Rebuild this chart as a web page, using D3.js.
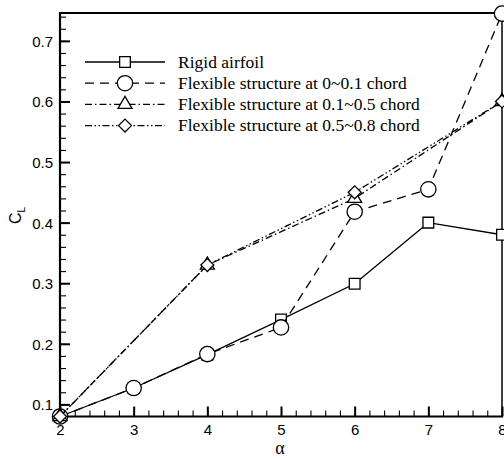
<!DOCTYPE html>
<html><head><meta charset="utf-8">
<script src="https://cdn.jsdelivr.net/npm/d3@7"></script>
<style>
html,body{margin:0;padding:0;background:#fff;}
svg{display:block;}
</style></head>
<body>
<svg id="chart" width="504" height="459"></svg>
<script>
// ---- data ----
const alphaRigid = [2, 3, 4, 5, 6, 7, 8];
const clRigid    = [0.080, 0.127, 0.182, 0.240, 0.299, 0.400, 0.380];
const alphaFlex1 = [2, 3, 4, 5, 6, 7, 8];
const clFlex1    = [0.080, 0.127, 0.183, 0.227, 0.418, 0.455, 0.745];
const alphaFlex2 = [2, 4, 6, 8];
const clFlex2    = [0.080, 0.330, 0.440, 0.600];
const alphaFlex3 = [2, 4, 6, 8];
const clFlex3    = [0.080, 0.330, 0.450, 0.600];
const seriesNames = ["Rigid airfoil", "Flexible structure at 0~0.1 chord",
  "Flexible structure at 0.1~0.5 chord", "Flexible structure at 0.5~0.8 chord"];
const xTickValues = [2, 3, 4, 5, 6, 7, 8];
const yTickValues = [0.1, 0.2, 0.3, 0.4, 0.5, 0.6, 0.7];
const xLabel = "α";
const yLabel = "C";
const yLabelSub = "L";

const series = [
  {name: seriesNames[0], xs: alphaRigid, ys: clRigid, dash: null, marker: "square"},
  {name: seriesNames[1], xs: alphaFlex1, ys: clFlex1, dash: "9,6", marker: "circle"},
  {name: seriesNames[2], xs: alphaFlex2, ys: clFlex2, dash: "7,3,1.5,3", marker: "triangle"},
  {name: seriesNames[3], xs: alphaFlex3, ys: clFlex3, dash: "7,2.5,1.5,2.5,1.5,2.5", marker: "diamond"}
];

const svg = d3.select("#chart");
const L = 60, R = 502, T = 13, B = 416.5;
const x = d3.scaleLinear().domain([2, 8]).range([L, R]);
const y = d3.scaleLinear().domain([0.08, 0.746]).range([B, T]);

const diamondType = {
  draw(ctx, size) {
    const r = Math.sqrt(size / 2);
    ctx.moveTo(0, -r); ctx.lineTo(r, 0); ctx.lineTo(0, r); ctx.lineTo(-r, 0); ctx.closePath();
  }
};
const symbolFor = {
  square: d3.symbol().type(d3.symbolSquare).size(115),
  circle: d3.symbol().type(d3.symbolCircle).size(185),
  triangle: d3.symbol().type(d3.symbolTriangle).size(85),
  diamond: d3.symbol().type(diamondType).size(84)
};

// axes
const fontSans = "'Liberation Sans', Arial, sans-serif";
const fontSerif = "'Liberation Serif', 'Times New Roman', serif";
const xMinor = d3.range(2, 8.0001, 0.2).map(v => +v.toFixed(2));
const yMinor = d3.range(0.08, 0.745, 0.02).map(v => +v.toFixed(2));

const gxMinor = svg.append("g").attr("transform", `translate(0,${B})`)
  .call(d3.axisBottom(x).tickValues(xMinor).tickSize(-6).tickFormat(""));
const gyMinor = svg.append("g").attr("transform", `translate(${L},0)`)
  .call(d3.axisLeft(y).tickValues(yMinor).tickSize(-6).tickFormat(""));
[gxMinor, gyMinor].forEach(g => {
  g.select(".domain").remove();
  g.selectAll(".tick line").attr("stroke", "#000").attr("stroke-width", 1.1);
});

const gx = svg.append("g").attr("transform", `translate(0,${B})`)
  .call(d3.axisBottom(x).tickValues(xTickValues).tickSize(-10).tickPadding(0).tickFormat(d3.format("d")));
gx.select(".domain").remove();
gx.selectAll(".tick line").attr("stroke", "#000").attr("stroke-width", 2);
gx.selectAll(".tick text").attr("y", 18).attr("dy", 0)
  .attr("font-family", fontSans).attr("font-size", 15).attr("fill", "#000");

const gy = svg.append("g").attr("transform", `translate(${L},0)`)
  .call(d3.axisLeft(y).tickValues(yTickValues).tickSize(-10).tickFormat(d3.format(".1f")));
gy.select(".domain").remove();
gy.selectAll(".tick line").attr("stroke", "#000").attr("stroke-width", 2);
gy.selectAll(".tick text").attr("x", -7).attr("dy", "0.36em")
  .attr("font-family", fontSans).attr("font-size", 15).attr("fill", "#000");

// frame
svg.append("line").attr("x1", L).attr("x2", L).attr("y1", T - 1).attr("y2", B + 1)
  .attr("stroke", "#000").attr("stroke-width", 2.2);
svg.append("line").attr("x1", L - 1).attr("x2", R + 1).attr("y1", B).attr("y2", B)
  .attr("stroke", "#000").attr("stroke-width", 2.2);
svg.append("line").attr("x1", L - 1).attr("x2", R).attr("y1", T).attr("y2", T)
  .attr("stroke", "#000").attr("stroke-width", 2);
svg.append("line").attr("x1", R).attr("x2", R).attr("y1", T).attr("y2", B)
  .attr("stroke", "#000").attr("stroke-width", 1.5);

// axis labels
svg.append("text").attr("x", 280).attr("y", 454).attr("text-anchor", "middle")
  .attr("font-family", fontSerif).attr("font-size", 18)
  .text(xLabel);
const yl = svg.append("text").attr("transform", "translate(21,224) rotate(-90)")
  .attr("text-anchor", "start")
  .attr("font-family", fontSans).attr("font-size", 16);
yl.append("tspan").text(yLabel);
yl.append("tspan").attr("font-size", 10).attr("dy", 4).text(yLabelSub);

// lines + markers
const line = d3.line().x(d => x(d[0])).y(d => y(d[1]));
series.forEach(s => {
  const pts = s.xs.map((v, i) => [v, s.ys[i]]);
  const g = svg.append("g");
  g.append("path").attr("d", line(pts)).attr("fill", "none")
    .attr("stroke", "#000").attr("stroke-width", 1.3)
    .attr("stroke-dasharray", s.dash);
  g.selectAll("path.m").data(pts).join("path").attr("class", "m")
    .attr("transform", d => `translate(${x(d[0])},${y(d[1])})`)
    .attr("d", symbolFor[s.marker]())
    .attr("fill", "#fff").attr("stroke", "#000").attr("stroke-width", 1.3);
});

// legend
const lg = svg.append("g");
series.forEach((s, i) => {
  const yy = 62 + i * 21.2;
  lg.append("line").attr("x1", 85).attr("x2", 165).attr("y1", yy).attr("y2", yy)
    .attr("stroke", "#000").attr("stroke-width", 1.3).attr("stroke-dasharray", s.dash);
  lg.append("path").attr("transform", `translate(125,${yy})`).attr("d", symbolFor[s.marker]())
    .attr("fill", "#fff").attr("stroke", "#000").attr("stroke-width", 1.3);
  lg.append("text").attr("x", 178).attr("y", yy).attr("dy", "0.33em")
    .attr("font-family", fontSerif).attr("font-size", 17.5)
    .text(s.name);
});
</script>
</body></html>
